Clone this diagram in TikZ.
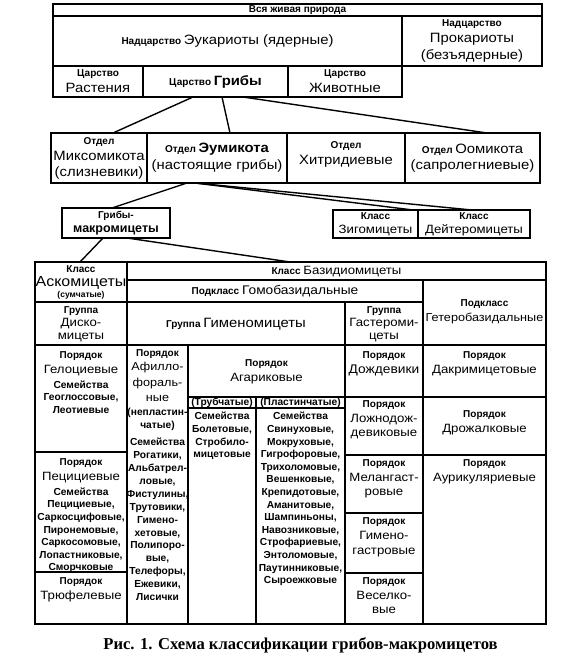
\documentclass[tikz,border=0pt]{standalone}
\usepackage{fontspec}
\setmainfont{Liberation Sans}
\newfontfamily\regw{Liberation Sans}[FakeStretch=1.1]
\newfontfamily\capfont{Liberation Serif}
\newcommand\fSm{\bfseries\fontsize{10}{11}\selectfont}
\newcommand\fXs{\bfseries\fontsize{8.5}{9}\selectfont}
\newcommand\fBg{\regw\mdseries\fontsize{13.5}{16}\selectfont}
\newcommand\fAs{\regw\mdseries\fontsize{14.5}{16}\selectfont}
\newcommand\fMd{\regw\mdseries\fontsize{12}{15}\selectfont}
\newcommand\fOr{\regw\mdseries\fontsize{12}{14}\selectfont}
\newcommand\fFm{\bfseries\fontsize{10.2}{12}\selectfont}
\newcommand\cellbox[5]{\node[bx, minimum width={#4pt-#2pt}, minimum height={#5pt-#3pt}] (#1) at ({(#2+#4)/2},{(#3+#5)/2}) {};}
\begin{document}
\begin{tikzpicture}[x=1pt,y=-1pt,line width=1.5pt,
  bx/.style={draw, inner sep=0pt, outer sep=0pt},
  tx/.style={inner sep=0pt, align=center, font={\fontsize{10}{12.6}\selectfont}},
  conn/.style={line width=1.4pt}]
\useasboundingbox (0,0) rectangle (570,664);
% ---------- top block
\cellbox{top}{53}{4}{542}{16}
\cellbox{euk}{53}{16}{402}{66}
\cellbox{prok}{402}{16}{542}{66}
\cellbox{rast}{53}{66}{143}{97}
\cellbox{grib}{143}{66}{288}{97}
\cellbox{zhiv}{288}{66}{402}{97}
\node[tx] (ttop) at (297.5,10.3) {\bfseries\fontsize{10}{11}\selectfont Вся живая природа};
\node[tx] (teuk) at (227.5,41.5) {{\fSm Надцарство} {\fBg Эукариоты (ядерные)}};
\node[tx] (tprok) at (472,41) {\fSm Надцарство\\[4pt] \fBg Прокариоты\\[3.5pt] \fBg (безъядерные)};
\node[tx] (trast) at (98,81.5) {\fSm Царство\\[3.5pt] \fBg Растения};
\node[tx] (tgrib) at (215.5,82) {{\fSm Царство} {\fBg\bfseries Грибы}};
\node[tx] (tzhiv) at (345,81.5) {\fSm Царство\\[3.5pt] \fBg Животные};
% ---------- divisions
\cellbox{miks}{51}{133}{147}{183}
\cellbox{eum}{147}{133}{287}{183}
\cellbox{chit}{287}{133}{405}{183}
\cellbox{oom}{405}{133}{540}{183}
\node[tx] (tmiks) at (99,158.5) {\fSm Отдел\\[3.5pt] \fBg Миксомикота\\[3.5pt] \fBg (слизневики)};
\node[tx] (teum) at (217,158) {{\fSm Отдел} {\fBg\bfseries Эумикота}\\[3.5pt] \fBg (настоящие грибы)};
\node[tx] (tchit) at (346,154) {\fSm Отдел\\[3.5pt] \fBg Хитридиевые};
\node[tx] (toom) at (472.5,158) {{\fSm Отдел} {\fBg Оомикота}\\[3.5pt] \fBg (сапролегниевые)};
\draw[conn] ([xshift=50pt]grib.south west) -- ([xshift=62pt]miks.north west);
\draw[conn] ([xshift=79pt]grib.south west) -- ([xshift=83pt]eum.north west);
\draw[conn] ([xshift=100pt]grib.south west) -- ([xshift=82pt]oom.north west);
% ---------- classes
\cellbox{makro}{62}{208}{170}{238}
\cellbox{zyg}{333}{210}{418}{238}
\cellbox{deut}{418}{210}{530}{238}
\node[tx] (tmakro) at (116,223) {\fSm Грибы-\\[1pt] \bfseries\fontsize{12.5}{14}\selectfont макромицеты};
\node[tx] (tzyg) at (375.5,224) {\fSm Класс\\[1.5pt] \fMd Зигомицеты};
\node[tx] (tdeut) at (474,224) {\fSm Класс\\[1.5pt] \fMd Дейтеромицеты};
\draw[conn] ([xshift=40pt]eum.south west) -- ([xshift=50pt]makro.north west);
\draw[conn] ([xshift=48pt]eum.south west) -- ([xshift=80pt]zyg.north west);
\draw[conn] ([xshift=48pt]eum.south west) -- ([xshift=54pt]deut.north west);
% ---------- table
\cellbox{ask}{35}{262}{127}{302}
\cellbox{bas}{127}{262}{546}{280}
\cellbox{homo}{127}{280}{423}{302}
\cellbox{hetero}{423}{280}{546}{345}
\cellbox{disk}{35}{302}{127}{345}
\cellbox{hymen}{127}{302}{345}{345}
\cellbox{gast}{345}{302}{423}{345}
\cellbox{helo}{35}{345}{127}{452}
\cellbox{peci}{35}{452}{127}{572}
\cellbox{truf}{35}{572}{127}{624}
\cellbox{afil}{127}{345}{188}{624}
\cellbox{agar}{188}{345}{345}{397}
\cellbox{trub}{188}{397}{256}{408}
\cellbox{plas}{256}{397}{345}{408}
\cellbox{bolet}{188}{408}{256}{624}
\cellbox{svin}{256}{408}{345}{624}
\cellbox{dozh}{345}{345}{423}{397}
\cellbox{lozh}{345}{397}{423}{455}
\cellbox{mela}{345}{455}{423}{513}
\cellbox{gimg}{345}{513}{423}{573}
\cellbox{vese}{345}{573}{423}{624}
\cellbox{dakr}{423}{345}{546}{397}
\cellbox{drozh}{423}{397}{546}{455}
\cellbox{auri}{423}{455}{546}{624}
\draw[conn] ([xshift=41pt]makro.south west) -- ([xshift=45pt]ask.north west);
\draw[conn] ([xshift=65pt]makro.south west) -- ([xshift=163pt]bas.north west);
\node[tx] (task) at (81,282.5) {\fSm Класс\\[2pt] \fAs Аскомицеты\\[-1.5pt] \fXs (сумчатые)};
\node[tx] (tbas) at (336.5,271.5) {{\fSm Класс} {\fMd Базидиомицеты}};
\node[tx] (thomo) at (275,291.5) {{\fSm Подкласс} {\regw\fontsize{12.5}{14}\selectfont Гомобазидальные}};
\node[tx] (thet) at (484.5,312) {\fSm Подкласс\\[2.5pt] \regw\fontsize{11.5}{14}\selectfont Гетеробазидальные};
\node[tx] (tdisk) at (81,324.5) {\fSm Группа\\[0pt] \fOr Диско-\\[0.5pt] \fOr мицеты};
\node[tx] (thym) at (236,324) {{\fSm Группа} {\regw\fontsize{13.5}{15}\selectfont Гименомицеты}};
\node[tx] (tgas) at (384,324.5) {\fSm Группа\\[0pt] \fOr Гастероми-\\[0.5pt] \fOr цеты};
\node[tx,anchor=north] (thelo) at (81,351) {\fSm Порядок\\[2.5pt] \fOr Гелоциевые\\[2pt] \fFm Семейства\\ \fFm Геоглоссовые,\\ \fFm Леотиевые};
\node[tx,anchor=north] (tpeci) at (81,458) {\fSm Порядок\\[2.5pt] \fOr Пецициевые\\[2pt] \fFm Семейства\\ \fFm Пецициевые,\\ \fFm Саркосцифовые,\\ \fFm Пиронемовые,\\ \fFm Саркосомовые,\\ \fFm Лопастниковые,\\ \fFm Сморчковые};
\node[tx,anchor=north] (ttruf) at (81,576.5) {\fSm Порядок\\[2.5pt] \fOr Трюфелевые};
\node[tx,anchor=north] (tafil) at (157.5,348.5) {\fSm Порядок\\[2pt] \regw\fontsize{11.5}{14}\selectfont Афилло-\\[3pt] \regw\fontsize{11.5}{14}\selectfont фораль-\\[3pt] \regw\fontsize{11.5}{14}\selectfont ные\\[1pt] \fFm (непластин-\\ \fFm чатые)\\[5pt] \fFm Семейства\\[0.3pt] \fFm Рогатики,\\[0.3pt] \fFm Альбатрел-\\[0.3pt] \fFm ловые,\\[0.3pt] \fFm Фистулины,\\[0.3pt] \fFm Трутовики,\\[0.3pt] \fFm Гимено-\\[0.3pt] \fFm хетовые,\\[0.3pt] \fFm Полипоро-\\[0.3pt] \fFm вые,\\[0.3pt] \fFm Телефоры,\\[0.3pt] \fFm Ежевики,\\[0.3pt] \fFm Лисички};
\node[tx] (tagar) at (266.5,371.5) {\fSm Порядок\\[2.5pt] \fOr Агариковые};
\node[tx] (ttrub) at (222,402.5) {\fFm (Трубчатые)};
\node[tx] (tplas) at (300.5,402.5) {\fFm (Пластинчатые)};
\node[tx,anchor=north] (tbolet) at (222,411.5) {\fFm Семейства\\ \fFm Болетовые,\\ \fFm Стробило-\\ \fFm мицетовые};
\node[tx,anchor=north] (tsvin) at (300.5,411.5) {\fFm Семейства\\ \fFm Свинуховые,\\ \fFm Мокруховые,\\ \fFm Гигрофоровые,\\ \fFm Трихоломовые,\\ \fFm Вешенковые,\\ \fFm Крепидотовые,\\ \fFm Аманитовые,\\ \fFm Шампиньоны,\\ \fFm Навозниковые,\\ \fFm Строфариевые,\\ \fFm Энтоломовые,\\ \fFm Паутинниковые,\\ \fFm Сыроежковые};
\node[tx,anchor=north] (tdozh) at (384,351) {\fSm Порядок\\[2.5pt] \regw\fontsize{12.5}{14}\selectfont Дождевики};
\node[tx,anchor=north] (tlozh) at (384,399.5) {\fSm Порядок\\[2.5pt] \fOr Ложнодож-\\[2pt] \fOr девиковые};
\node[tx,anchor=north] (tmela) at (384,458.5) {\fSm Порядок\\[2.5pt] \fOr Мелангаст-\\[2pt] \fOr ровые};
\node[tx,anchor=north] (tgimg) at (384,517) {\fSm Порядок\\[2.5pt] \fOr Гимено-\\[2pt] \fOr гастровые};
\node[tx,anchor=north] (tvese) at (384,576.5) {\fSm Порядок\\[2.5pt] \fOr Веселко-\\[2pt] \fOr вые};
\node[tx,anchor=north] (tdakr) at (484.5,351) {\fSm Порядок\\[2.5pt] \fOr Дакримицетовые};
\node[tx] (tdrozh) at (484.5,423) {\fSm Порядок\\[2.5pt] \fOr Дрожалковые};
\node[tx,anchor=north] (tauri) at (484.5,458.5) {\fSm Порядок\\[2.5pt] \fOr Аурикуляриевые};
% ---------- caption
\node[inner sep=0pt, font=\capfont\bfseries\fontsize{16.6}{18}\selectfont] (cap) at (300.5,645) {Рис. 1. Схема классификации грибов-макромицетов};
\end{tikzpicture}
\end{document}
